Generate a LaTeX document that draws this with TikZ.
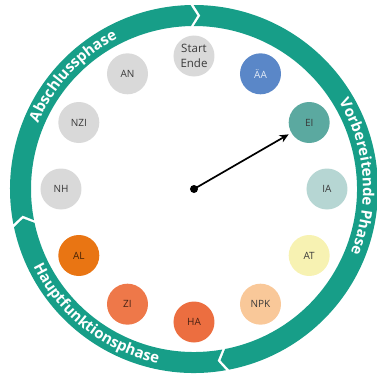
\documentclass[tikz,border=0pt]{standalone}
\usepackage{fontspec}
\setmainfont{Open Sans}
\usetikzlibrary{decorations.text,arrows.meta}
\definecolor{ringc}{HTML}{179E88}
\definecolor{grayc}{HTML}{D9D9D9}
\definecolor{aac}{HTML}{5A87C8}
\definecolor{eic}{HTML}{5BA9A0}
\definecolor{iac}{HTML}{B6D6D3}
\definecolor{atc}{HTML}{F7F2B2}
\definecolor{npkc}{HTML}{F9C899}
\definecolor{hac}{HTML}{EC6E40}
\definecolor{zic}{HTML}{EE7849}
\definecolor{alc}{HTML}{E97513}
\definecolor{txtc}{HTML}{3A3A3A}
\newcommand\phfont{\color{white}\bfseries\fontsize{15pt}{18pt}\selectfont}
\tikzset{
  bub/.style={circle, minimum size=41pt, inner sep=0pt, text=txtc,
    font=\fontsize{10pt}{12pt}\selectfont},
  pointer/.style={line width=1.7pt, -{Stealth[length=9pt,width=8pt]}, shorten >=3pt}
}
\begin{document}
\begin{tikzpicture}[x=1pt,y=1pt]
\useasboundingbox (-194,-189) rectangle (183,189);
\def\Ro{184pt}\def\Ri{163pt}\def\Rm{173.5pt}
\foreach \a/\b in {90.6/-79.5, -79.5/-168.5, -168.5/-269.4} {
  \pgfmathsetmacro\sa{\a-0.5}
  \pgfmathsetmacro\sn{\a-0.5-2.2}
  \pgfmathsetmacro\eb{\b+0.5}
  \pgfmathsetmacro\et{\b+0.5-2.2}
  \fill[ringc] (\sa:\Ri) -- (\sn:\Rm) -- (\sa:\Ro)
    arc[start angle=\sa, end angle=\eb, radius=\Ro]
    -- (\et:\Rm) -- (\eb:\Ri)
    arc[start angle=\eb, end angle=\sa, radius=\Ri] -- cycle;
}
\path[decorate, decoration={text along path, text align=center,
  text={|\phfont|Abschlussphase}}]
  (172:169pt) arc[start angle=172, end angle=102, radius=169pt];
\path[decorate, decoration={text along path, text align=center,
  text={|\phfont|Vorbereitende Phase}}]
  (64:169pt) arc[start angle=64, end angle=-55, radius=169pt];
\path[decorate, decoration={text along path, text align=center,
  text={|\phfont|Hauptfunktionsphase}}]
  (185:178pt) arc[start angle=185, end angle=279, radius=178pt];

\node[bub, fill=grayc, align=center, font=\fontsize{11.5pt}{15pt}\selectfont] (SE) at (90:133pt) {Start\\Ende};
\node[bub, fill=aac, text=white!85!aac] (AA) at (60:133pt) {ÄA};
\node[bub, fill=eic] (EI) at (30:133pt) {EI};
\node[bub, fill=iac] (IA) at (0:133pt) {IA};
\node[bub, fill=atc] (AT) at (-30:133pt) {AT};
\node[bub, fill=npkc] (NPK) at (-60:133pt) {NPK};
\node[bub, fill=hac, text=black!70!hac] (HA) at (-90:133pt) {HA};
\node[bub, fill=zic, text=black!70!zic] (ZI) at (-120:133pt) {ZI};
\node[bub, fill=alc, text=black!70!alc] (AL) at (-150:133pt) {AL};
\node[bub, fill=grayc] (NH) at (180:133pt) {NH};
\node[bub, fill=grayc] (NZI) at (150:133pt) {NZI};
\node[bub, fill=grayc] (AN) at (120:133pt) {AN};

\node[circle, fill=black, minimum size=8pt, inner sep=0pt] (C) at (0,0) {};
\draw[pointer] (C.center) -- (EI);
\end{tikzpicture}
\end{document}
